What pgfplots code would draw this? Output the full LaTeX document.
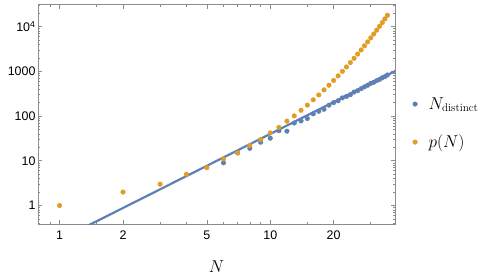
\documentclass[border=0pt]{standalone}
\usepackage{pgfplots}
\pgfplotsset{compat=1.18}
\usepackage{fontspec}
\newfontfamily\arialfont{Liberation Sans}
\definecolor{mblue}{rgb}{0.368417,0.506779,0.709798}
\definecolor{morange}{rgb}{0.880722,0.611041,0.142051}
\definecolor{framegray}{gray}{0.55}
\begin{document}
\begin{tikzpicture}
\begin{loglogaxis}[
  name=ax,
  scale only axis,
  width=357bp, height=220bp,
  xmin=0.79, xmax=39.1,
  ymin=0.38, ymax=31600,
  axis line style={framegray, line width=0.6bp},
  every tick/.style={framegray, line width=0.6bp},
  major tick length=4.5bp,
  minor tick length=2.5bp,
  tick align=inside,
  xtick={1,2,5,10,20},
  xticklabels={1,2,5,10,20},
  minor xtick={0.9,1.5,3,4,6,7,8,9,15,30},
  ytick={1,10,100,1000,10000},
  yticklabels={1,10,100,1000,10\textsuperscript{4}},
  minor ytick={0.4,0.5,0.6,0.7,0.8,0.9,2,3,4,5,6,7,8,9,20,30,40,50,60,70,80,90,200,300,400,500,600,700,800,900,2000,3000,4000,5000,6000,7000,8000,9000,20000,30000},
  tick label style={font=\arialfont\fontsize{12.5}{14}\selectfont, black},
  xticklabel style={yshift=-3bp},
  yticklabel style={xshift=1bp},
  xlabel={$N$},
  xlabel style={font=\fontsize{16}{18}\selectfont, yshift=-14bp},
  legend style={draw=none, fill=none, at={(0.975,0.437)}, anchor=west,
    font=\fontsize{16}{18}\selectfont, row sep=10bp,
    legend cell align=left},
  legend image code/.code={\path[draw=none,fill=none] (0,0) rectangle (0.8cm,0); \fill (0.15cm,0cm) circle (2.3bp);},
  clip=true,
]
\addplot[mblue, line width=2.2bp, forget plot] coordinates {(1.3,0.317) (40,1065)};
\addplot[only marks, mark=*, mark size=2.3bp, mblue, mark options={draw=none, fill=mblue}] coordinates {
(6,9) (7,15) (8,19) (9,26) (10,32) (11,47) (12,46) (13,70) (14,78) (15,88)
(16,112) (17,128) (18,142) (19,175) (20,200) (21,220) (22,255) (23,275) (24,300)
(25,345) (26,370) (27,410) (28,450) (29,490) (30,540) (31,570) (32,620) (33,660)
(34,720) (35,760) (36,830)};
\addlegendentry{\hspace{9bp}$N_{\mathrm{distinct}}$}
\addplot[only marks, mark=*, mark size=2.3bp, morange, mark options={draw=none, fill=morange}] coordinates {
(1,1) (2,2) (3,3) (4,5) (5,7) (6,11) (7,15) (8,22) (9,30) (10,42) (11,56) (12,77)
(13,101) (14,135) (15,176) (16,231) (17,297) (18,385) (19,490) (20,627) (21,792)
(22,1002) (23,1255) (24,1575) (25,1958) (26,2436) (27,3010) (28,3718) (29,4565)
(30,5604) (31,6842) (32,8349) (33,10143) (34,12310) (35,14883) (36,17977)};
\addlegendentry{\hspace{9bp}$p(N)$}
\end{loglogaxis}
\pgfresetboundingbox
\path[use as bounding box] ([shift={(-38bp,-54.7bp)}]ax.south west) rectangle ([shift={(460bp,224.3bp)}]ax.south west);
\end{tikzpicture}
\end{document}
